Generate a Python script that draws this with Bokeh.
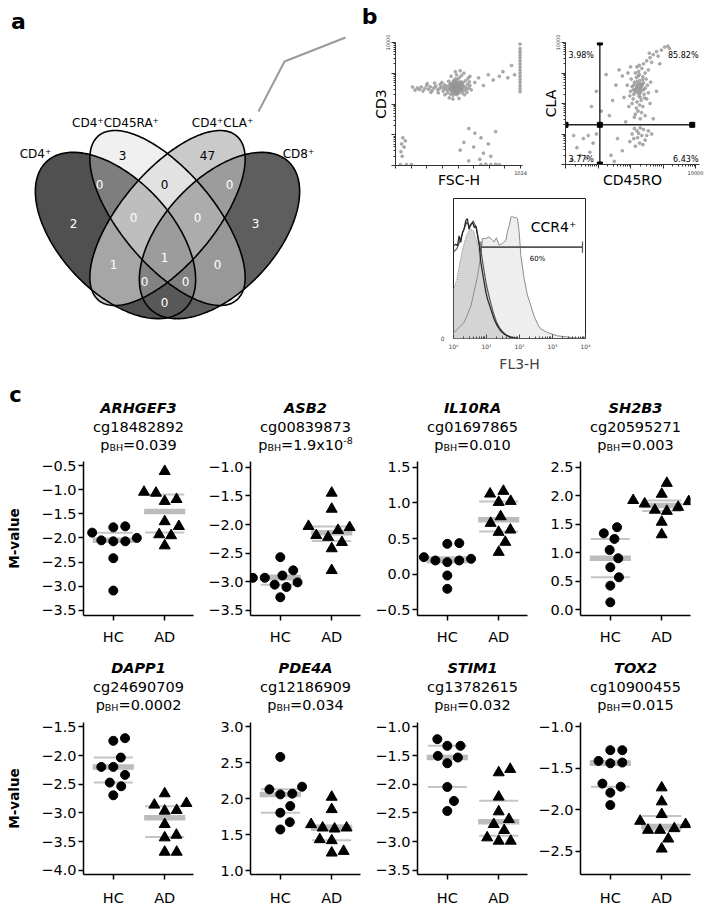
import math
import numpy as np
from bokeh.plotting import figure
from bokeh.layouts import row, column
from bokeh.models import Range1d, FixedTicker, ColumnDataSource
from bokeh.core.properties import value
from bokeh.embed import file_html
from bokeh.resources import INLINE

FONT = "DejaVu Sans"

# ======================= DATA =======================
# ---- panel a : Venn of probe sets (membership code: CD4, CD4CD45RA, CD4CLA, CD8)
VENN_SETS = ["CD4⁺", "CD4⁺CD45RA⁺", "CD4⁺CLA⁺", "CD8⁺"]
VENN_REGIONS = ["1000", "0100", "0010", "0001", "1100", "0110", "0011",
                "1110", "0111", "1010", "1111", "0101", "1011", "1101", "1001"]
VENN_COUNTS = [2, 3, 47, 3, 0, 0, 0, 0, 0, 1, 1, 0, 0, 0, 0]

# ---- panel b : flow cytometry (log10 values for log channels)
SCATTER1_EVENTS = [  # (FSC-H, log10 CD3)
    (490, 2.52), (470, 2.60), (510, 2.45), (455, 2.50), (530, 2.58), (500, 2.70), (480, 2.38), (520, 2.66),
    (460, 2.42), (540, 2.48), (495, 2.56), (475, 2.75), (515, 2.35), (445, 2.62), (550, 2.60), (505, 2.62),
    (485, 2.46), (525, 2.52), (465, 2.68), (535, 2.72), (450, 2.32), (500, 2.30), (560, 2.44), (440, 2.52),
    (570, 2.56), (490, 2.82), (520, 2.85), (470, 2.28), (545, 2.36), (430, 2.45), (510, 2.55), (480, 2.58),
    (495, 2.40), (460, 2.56), (530, 2.44), (505, 2.78), (485, 2.66), (555, 2.70), (475, 2.50), (515, 2.62),
    (488, 2.53), (472, 2.47), (508, 2.60), (492, 2.66), (462, 2.52), (518, 2.50), (528, 2.68), (482, 2.42),
    (498, 2.48), (512, 2.40), (468, 2.64), (538, 2.60), (478, 2.56), (502, 2.58), (522, 2.46), (458, 2.44),
    (548, 2.52), (494, 2.36), (484, 2.74), (514, 2.70), (452, 2.66), (506, 2.34), (532, 2.56), (476, 2.34),
    (544, 2.64), (466, 2.58), (526, 2.62), (496, 2.44), (486, 2.62), (516, 2.54),
    (420, 2.58), (410, 2.48), (400, 2.62), (390, 2.42), (375, 2.55), (360, 2.50), (345, 2.46), (330, 2.58),
    (315, 2.52), (300, 2.44), (285, 2.56), (270, 2.48), (255, 2.60), (240, 2.50), (225, 2.42), (210, 2.55),
    (195, 2.47), (180, 2.52), (160, 2.45), (140, 2.55), (380, 2.70), (350, 2.36), (320, 2.68), (290, 2.38),
    (260, 2.66), (405, 2.30), (435, 2.74), (425, 2.36), (365, 2.64), (395, 2.52), (580, 2.48), (590, 2.64),
    (600, 2.52), (585, 2.38), (575, 2.76), (610, 2.60), (565, 2.30), (595, 2.84), (620, 2.46), (605, 2.72),
    (455, 2.90), (500, 2.95), (540, 2.92), (470, 2.16), (520, 2.18), (490, 3.05), (560, 3.00), (440, 2.20),
    (610, 2.90), (530, 3.08), (650, 2.70), (680, 2.85), (720, 2.60), (760, 2.95), (800, 2.78), (850, 2.90),
    (880, 3.05), (920, 2.85), (950, 3.25), (975, 2.95),
    (1020, 2.40), (1020, 2.50), (1020, 2.60), (1020, 2.70), (1020, 2.80), (1020, 2.90), (1020, 3.00),
    (1020, 3.10), (1020, 3.20), (1020, 3.30), (1020, 3.40), (1020, 3.50), (1020, 3.60), (1020, 3.70),
    (1020, 3.80), (1020, 3.95),
    (60, 0.90), (50, 0.70), (70, 0.60), (45, 0.45), (80, 0.80), (55, 0.30), (40, 0.03), (90, 0.03),
    (130, 0.03), (600, 1.20), (650, 1.05), (560, 0.75), (700, 0.90), (640, 0.60), (720, 0.40), (690, 0.20),
    (600, 0.15), (530, 0.50), (760, 0.70), (820, 1.10), (780, 0.30), (700, 0.03), (740, 0.04), (780, 0.03),
    (820, 0.04), (850, 0.03),
]
SCATTER2_EVENTS = [  # (log10 CD45RO, log10 CLA)
    (2.25, 2.50), (2.20, 2.62), (2.32, 2.40), (2.15, 2.45), (2.28, 2.75), (2.35, 2.58), (2.10, 2.30), (2.40, 2.68),
    (2.18, 2.85), (2.30, 2.20), (2.22, 2.35), (2.45, 2.50), (2.05, 2.55), (2.27, 2.95), (2.38, 2.88), (2.12, 2.70),
    (2.33, 2.10), (2.20, 2.05), (2.42, 2.30), (2.08, 2.15), (2.25, 3.05), (2.35, 3.15), (2.15, 3.00), (2.45, 3.00),
    (2.28, 1.95), (2.18, 1.85), (2.38, 1.90), (2.05, 2.00), (2.50, 2.15), (2.00, 2.40), (2.26, 2.60), (2.31, 2.48),
    (2.19, 2.55), (2.24, 2.42), (2.36, 2.62), (2.14, 2.38), (2.29, 2.33), (2.21, 2.72), (2.40, 2.45), (2.10, 2.60),
    (2.48, 2.80), (2.02, 2.80), (2.52, 2.60), (1.98, 2.25), (2.55, 2.35), (2.23, 1.75), (2.34, 1.70), (2.15, 1.65),
    (2.27, 3.25), (2.40, 3.30), (2.20, 3.20), (2.50, 3.40), (2.32, 2.52), (2.17, 2.48), (2.26, 2.25), (2.37, 2.78),
    (2.09, 2.45), (2.43, 2.18), (2.24, 2.90), (2.30, 2.65), (2.60, 3.50), (2.70, 3.60), (2.80, 3.70), (2.95, 3.75),
    (3.05, 3.85), (3.15, 3.88), (2.65, 3.35), (2.85, 3.55), (2.58, 3.65), (3.20, 3.80), (2.12, 1.55), (2.30, 1.50),
    (2.45, 1.60), (1.95, 1.90), (2.60, 2.00), (1.90, 2.60), (2.62, 2.70), (1.92, 3.00), (2.55, 3.10), (2.00, 3.20),
    (2.20, 1.10), (2.35, 0.95), (2.10, 0.85), (2.40, 1.15), (2.28, 0.70), (2.15, 0.60), (2.45, 0.80), (2.05, 1.00),
    (2.30, 1.20), (2.50, 0.95), (2.22, 0.88), (2.38, 0.65), (1.98, 0.75), (2.25, 1.02), (2.55, 1.10), (2.12, 1.18),
    (0.35, 0.55), (0.55, 0.85), (0.75, 0.40), (0.25, 0.95), (0.65, 0.20), (0.85, 0.70), (0.45, 0.30), (0.95, 1.00),
    (0.20, 0.15), (0.70, 0.95), (1.40, 0.30), (1.60, 0.85), (1.75, 0.45), (1.50, 0.10),
    (0.95, 2.40), (1.25, 2.95), (1.45, 2.10), (1.10, 1.75), (1.55, 2.60), (0.80, 1.90), (1.65, 3.10), (1.35, 1.60),
    (1.80, 2.20), (1.85, 1.40), (2.70, 1.50), (2.80, 2.40), (1.75, 2.90), (2.65, 1.00), (2.90, 3.30),
]
QUADRANT_GATE = (11.4, 20.0)          # CD45RO, CLA thresholds
QUADRANT_PCT = ["3.98%", "85.82%", "3.77%", "6.43%"]   # UL, UR, LL, LR

# histograms: (log10 FL3-H, relative count)
HIST_CCR4 = [(0.00, 0.04), (0.12, 0.067), (0.32, 0.114), (0.53, 0.233), (0.73, 0.448), (0.83, 0.605),
             (0.88, 0.714), (0.98, 0.714), (1.08, 0.726), (1.18, 0.70), (1.23, 0.690), (1.30, 0.72),
             (1.38, 0.667), (1.48, 0.679), (1.59, 0.702), (1.64, 0.771), (1.69, 0.807), (1.74, 0.867),
             (1.79, 0.874), (1.84, 0.86), (1.89, 0.867), (1.94, 0.855), (1.99, 0.762), (2.04, 0.595),
             (2.14, 0.429), (2.24, 0.310), (2.34, 0.238), (2.44, 0.162), (2.55, 0.102), (2.65, 0.067),
             (2.85, 0.043), (3.15, 0.019), (3.66, 0.005), (3.96, 0.0), (4.0, 0.02)]
HIST_ISOTYPE = [(0.0, 0.35), (0.1, 0.42), (0.2, 0.55), (0.3, 0.66), (0.4, 0.74), (0.5, 0.78), (0.6, 0.77),
                (0.7, 0.70), (0.8, 0.58), (0.9, 0.45), (1.0, 0.34), (1.1, 0.24), (1.2, 0.16), (1.3, 0.10),
                (1.4, 0.06), (1.5, 0.035), (1.6, 0.02), (1.8, 0.005), (2.0, 0.0)]
HIST_CTRL_A = [(0.0, 0.662), (0.07, 0.674), (0.12, 0.662), (0.17, 0.733), (0.22, 0.686), (0.27, 0.757),
               (0.32, 0.781), (0.37, 0.840), (0.42, 0.857), (0.47, 0.781), (0.53, 0.817), (0.58, 0.829),
               (0.63, 0.793), (0.68, 0.805), (0.73, 0.733), (0.78, 0.662), (0.83, 0.543), (0.88, 0.471),
               (0.93, 0.400), (0.98, 0.329), (1.03, 0.281), (1.13, 0.210), (1.23, 0.138), (1.33, 0.090),
               (1.43, 0.055), (1.54, 0.031), (1.64, 0.019), (1.74, 0.010), (1.94, 0.0)]
HIST_CTRL_B = [(0.0, 0.62), (0.1, 0.64), (0.2, 0.70), (0.3, 0.77), (0.4, 0.83), (0.5, 0.80), (0.6, 0.84),
               (0.7, 0.78), (0.8, 0.66), (0.85, 0.60), (0.9, 0.52), (0.95, 0.45), (1.0, 0.38), (1.1, 0.28),
               (1.2, 0.19), (1.3, 0.12), (1.4, 0.075), (1.5, 0.045), (1.6, 0.025), (1.7, 0.012), (1.9, 0.0)]
CCR4_GATE = (6.8, 8100.0)
CCR4_PCT = "60%"

# ---- panel c : M-values
GENES = ["ARHGEF3", "ASB2", "IL10RA", "SH2B3", "DAPP1", "PDE4A", "STIM1", "TOX2"]
PROBES = ["cg18482892", "cg00839873", "cg01697865", "cg20595271",
          "cg24690709", "cg12186909", "cg13782615", "cg10900455"]
P_BH = ["0.039", "1.9x10^-8", "0.010", "0.003", "0.0002", "0.034", "0.032", "0.015"]
GROUPS = ["HC", "AD"]
HC_M = [
    [-1.89, -1.78, -1.76, -2.05, -2.07, -2.07, -2.00, -2.42, -3.09],
    [-2.89, -3.01, -2.57, -2.80, -3.05, -3.09, -3.27, -2.93, -2.93],
    [0.215, 0.192, 0.425, 0.435, 0.168, 0.192, 0.238, -0.019, -0.206],
    [1.343, 1.449, 1.244, 1.051, 0.905, 0.748, 0.572, 0.426, 0.134],
    [-1.744, -1.698, -2.035, -2.198, -2.198, -2.337, -2.471, -2.535, -2.692],
    [2.581, 2.130, 2.167, 2.060, 2.070, 1.898, 1.805, 1.674, 1.572],
    [-1.215, -1.331, -1.331, -1.506, -1.535, -1.634, -2.047, -2.291, -2.465],
    [-1.282, -1.282, -1.411, -1.431, -1.440, -1.685, -1.722, -1.794, -1.944],
]
AD_M = [
    [-0.62, -1.05, -1.07, -1.24, -1.20, -1.76, -1.66, -1.93, -1.95, -2.16],
    [-1.45, -1.73, -2.05, -2.19, -2.22, -2.10, -2.03, -2.31, -2.42, -2.80],
    [1.126, 1.164, 1.009, 1.023, 0.808, 0.715, 0.621, 0.589, 0.449, 0.308],
    [2.22, 2.03, 1.92, 1.80, 1.75, 1.73, 1.86, 1.90, 1.54, 1.32],
    [-2.663, -2.831, -2.860, -2.965, -2.953, -3.198, -3.430, -3.384, -3.680, -3.680],
    [2.023, 1.851, 1.642, 1.595, 1.595, 1.581, 1.433, 1.419, 1.247, 1.270],
    [-1.797, -1.738, -2.221, -2.477, -2.610, -2.698, -2.802, -2.930, -2.988, -2.988],
    [-1.734, -1.903, -2.056, -2.137, -2.177, -2.246, -2.246, -2.226, -2.351, -2.472],
]

# ======================= LAYOUT / STYLE =======================
Y_LIMITS = [(-3.606, -0.417), (-3.588, -0.90), (-0.58, 1.58), (-0.097, 2.60),
            (-4.071, -1.425), (0.946, 3.06), (-3.571, -0.925), (-2.781, -0.948)]
COL_W = [198, 167, 167, 177]
COL_LEFT = [83, 52, 52, 48]
FRAME_W = 110
X_LIM = (0.42, 2.56)
TOP_H = 380
TITLE_H = [77, 68]
TITLE_CENTERS = [(50, 31, 13), (51, 32, 14)]   # gene, probe, p line (px above title bottom)
PLOT_TOP = 4
ROW_FRAME_H = [154, 152]
ROW_BOTTOM = [35, 34]
ROW_STANDOFF = [8, 10]

REGION_GRAY = {"1000": 80, "0100": 240, "0010": 202, "0001": 94, "1100": 126, "0110": 226,
               "0011": 156, "1110": 190, "0111": 172, "1010": 166, "1111": 156, "0101": 152,
               "1011": 130, "1101": 128, "1001": 88}
REGION_POS = {"1000": (73, 223), "0100": (122, 155), "0010": (207, 155), "0001": (255, 223),
              "1100": (99, 184), "0110": (164, 184), "0011": (229, 184), "1110": (133, 217),
              "0111": (197, 217), "1010": (113, 264), "1111": (164, 257), "0101": (217, 264),
              "1011": (144, 281), "1101": (185, 281), "1001": (164, 302)}
# ellipses in page pixel space (y down): cx, cy, a, b, angle
ELLIPSES = [(115, 235, 101, 56, 47), (167, 217.5, 107.3, 46.6, 50),
            (167, 217.5, 107.3, 46.6, -50), (219, 235, 101, 56, -47)]
SET_LABEL_POS = [(35, 153), (115, 122), (222, 122), (298, 153)]


def new_fig(w, h, xr, yr, bl=0, br=0, bt=0, bb=0, axes=True):
    kw = {}
    if not axes:
        kw = dict(x_axis_location=None, y_axis_location=None)
    p = figure(width=w, height=h, x_range=xr, y_range=yr, output_backend="svg",
               toolbar_location=None, min_border_left=bl, min_border_right=br,
               min_border_top=bt, min_border_bottom=bb, **kw)
    try:
        p.frame_align = False
    except Exception:
        pass
    p.outline_line_color = None
    p.xgrid.visible = False
    p.ygrid.visible = False
    p.background_fill_color = "white"
    p.border_fill_color = "white"
    return p


def txt(p, xs, ys, texts, size, align="center", base="middle", style="normal", color="black",
        angle=0.0):
    p.text(x=xs, y=ys, text=texts, text_align=align, text_baseline=base, angle=angle,
           text_font=value(FONT), text_font_size=value(f"{size}px"),
           text_font_style=style, text_color=color)


# ======================= PANEL A =======================
def venn_panel():
    W, H = 353, TOP_H
    p = new_fig(W, H, Range1d(0, W), Range1d(-H, 0), axes=False)
    X0, X1, Y0, Y1 = 20, 322, 108, 336
    nx, ny = X1 - X0, Y1 - Y0
    xs = X0 + 0.5 + np.arange(nx)
    ys = Y1 - 0.5 - np.arange(ny)
    XX, YY = np.meshgrid(xs, ys)
    code = np.zeros((ny, nx), dtype=int)
    for k, (cx, cy, a, b, ang) in enumerate(ELLIPSES):
        t = math.radians(ang)
        dx, dy = XX - cx, YY - cy
        pp = dx * math.cos(t) + dy * math.sin(t)
        qq = -dx * math.sin(t) + dy * math.cos(t)
        inside = (pp / a) ** 2 + (qq / b) ** 2 <= 1.0
        code += inside.astype(int) << (3 - k)
    img = np.zeros((ny, nx), dtype=np.uint32)
    view = img.view(dtype=np.uint8).reshape((ny, nx, 4))
    for reg, g in REGION_GRAY.items():
        m = code == int(reg, 2)
        view[m, 0] = g
        view[m, 1] = g
        view[m, 2] = g
        view[m, 3] = 255
    p.image_rgba(image=[img], x=X0, y=-Y1, dw=nx, dh=ny)

    exs, eys = [], []
    tt = np.linspace(0, 2 * np.pi, 240)
    for (cx, cy, a, b, ang) in ELLIPSES:
        t = math.radians(ang)
        ex = cx + a * np.cos(tt) * math.cos(t) - b * np.sin(tt) * math.sin(t)
        ey = cy + a * np.cos(tt) * math.sin(t) + b * np.sin(tt) * math.cos(t)
        exs.append(list(ex))
        eys.append(list(-ey))
    p.patches(xs=exs, ys=eys, fill_color=None, line_color="black", line_width=1.6)

    src = ColumnDataSource(dict(
        x=[REGION_POS[r][0] for r in VENN_REGIONS],
        y=[-REGION_POS[r][1] for r in VENN_REGIONS],
        t=[str(c) for c in VENN_COUNTS],
        c=["black" if r in ("0100", "0010", "0110") else "white" for r in VENN_REGIONS]))
    p.text(x="x", y="y", text="t", text_color="c", source=src, text_align="center",
           text_baseline="middle", text_font=value(FONT), text_font_size=value("12px"))
    txt(p, [q[0] for q in SET_LABEL_POS], [-q[1] for q in SET_LABEL_POS], VENN_SETS, 12)
    p.line(x=[258, 284, 345], y=[-111, -61, -37], line_color="#9a9a9a", line_width=2)
    txt(p, [18], [-21], ["a"], 22, style="bold")
    return p


# ======================= PANEL B =======================
def log_minor():
    return [d + math.log10(k) for d in range(4) for k in range(2, 10)]


def style_flow_axis(ax, label):
    ax.axis_line_color = "#333333"
    ax.axis_line_width = 1
    ax.major_tick_line_color = "#333333"
    ax.minor_tick_line_color = "#333333"
    ax.major_label_text_font = FONT
    ax.major_label_text_font_size = "5px"
    ax.major_label_text_color = "#333333"
    ax.major_label_standoff = 2
    ax.axis_label = label
    ax.axis_label_text_font = FONT
    ax.axis_label_text_font_size = "14px"
    ax.axis_label_text_font_style = "normal"
    ax.axis_label_text_color = "black"
    ax.axis_label_standoff = -6


def b_label_panel():
    p = new_fig(356, 28, Range1d(0, 356), Range1d(0, 28), axes=False)
    txt(p, [16], [12], ["b"], 22, style="bold")
    return p


def scatter1_panel():
    p = new_fig(177, 162, Range1d(0, 1040), Range1d(0, 4), bl=42, br=8, bt=14, bb=23)
    xs = [e[0] for e in SCATTER1_EVENTS]
    ys = [e[1] for e in SCATTER1_EVENTS]
    p.scatter(x=xs, y=ys, size=2.8, color="#969696", alpha=0.75)
    style_flow_axis(p.xaxis[0], "FSC-H")
    style_flow_axis(p.yaxis[0], "CD3")
    ticks = list(range(0, 1025, 128))
    p.xaxis.ticker = FixedTicker(ticks=ticks, minor_ticks=[])
    p.xaxis.major_tick_out = 3
    p.xaxis.major_tick_in = 0
    p.xaxis.major_label_overrides = {t: ("1024" if t == 1024 else "") for t in ticks}
    p.yaxis.ticker = FixedTicker(ticks=[0, 1, 2, 3, 4], minor_ticks=log_minor())
    p.yaxis.major_tick_out = 4
    p.yaxis.major_tick_in = 0
    p.yaxis.minor_tick_out = 2
    p.yaxis.minor_tick_in = 0
    p.yaxis.major_label_orientation = "vertical"
    p.yaxis.major_label_overrides = {t: ("10000" if t == 4 else "") for t in range(5)}
    return p


def scatter2_panel():
    x_end = 4 + 4 * 4 / 130.0
    p = new_fig(179, 162, Range1d(0, x_end), Range1d(0, 4), bl=35, br=10, bt=14, bb=23)
    xs = [e[0] for e in SCATTER2_EVENTS]
    ys = [e[1] for e in SCATTER2_EVENTS]
    p.scatter(x=xs, y=ys, size=2.8, color="#969696", alpha=0.75)
    gx = math.log10(QUADRANT_GATE[0])
    gy = math.log10(QUADRANT_GATE[1])
    p.line(x=[gx, gx], y=[0, 4], line_color="#222222", line_width=1.4)
    p.line(x=[0, 3.9], y=[gy, gy], line_color="#222222", line_width=1.4)
    p.scatter(x=[gx, gx, 0, 3.9, gx], y=[4, 0, gy, gy, gy], marker="square", size=5,
              color="black")
    style_flow_axis(p.xaxis[0], "CD45RO")
    style_flow_axis(p.yaxis[0], "CLA")
    for ax in (p.xaxis[0], p.yaxis[0]):
        ax.ticker = FixedTicker(ticks=[0, 1, 2, 3, 4], minor_ticks=log_minor())
        ax.major_tick_out = 4
        ax.major_tick_in = 0
        ax.minor_tick_out = 2
        ax.minor_tick_in = 0
        ax.major_label_overrides = {t: ("10000" if t == 4 else "") for t in range(5)}
    p.yaxis.major_label_orientation = "vertical"
    d = 3 / 32.5
    txt(p, [d, d], [3.58, 0.15], [QUADRANT_PCT[0], QUADRANT_PCT[2]], 8, align="left")
    txt(p, [x_end - 0.03, x_end - 0.03], [3.58, 0.15], [QUADRANT_PCT[1], QUADRANT_PCT[3]], 8,
        align="right")
    return p


def hist_panel():
    h = TOP_H - 28 - 162
    p = new_fig(356, h, Range1d(0, 4), Range1d(0, 1), bl=100, br=124, bt=8, bb=h - 148)
    p.outline_line_color = "#222222"
    p.outline_line_width = 1

    def xy(curve):
        return [c[0] for c in curve], [c[1] for c in curve]

    cx, cy = xy(HIST_CCR4)
    p.varea(x=cx, y1=[0] * len(cx), y2=cy, fill_color="#eeeeee")
    ix, iy = xy(HIST_ISOTYPE)
    p.varea(x=ix, y1=[0] * len(ix), y2=iy, fill_color="#d4d4d4")
    p.line(x=ix, y=iy, line_color="#8c8c8c", line_width=1, line_dash="1 1")
    p.line(x=cx, y=cy, line_color="#8c8c8c", line_width=1)
    bx, by = xy(HIST_CTRL_B)
    p.line(x=bx, y=by, line_color="#555555", line_width=1.2)
    ax_, ay_ = xy(HIST_CTRL_A)
    p.line(x=ax_, y=ay_, line_color="#222222", line_width=1.2)

    g0, g1 = math.log10(CCR4_GATE[0]), math.log10(CCR4_GATE[1])
    gy = 0.652
    p.line(x=[g0, g1], y=[gy, gy], line_color="#555555", line_width=1.8)
    p.segment(x0=[g0, g1], x1=[g0, g1], y0=[gy - 0.04] * 2, y1=[gy + 0.04] * 2,
              line_color="#555555", line_width=1.2)
    txt(p, [2.55], [0.571], [CCR4_PCT], 7)
    txt(p, [3.03], [0.793], ["CCR4⁺"], 14)

    xa = p.xaxis[0]
    xa.ticker = FixedTicker(ticks=[0, 1, 2, 3, 4], minor_ticks=log_minor())
    xa.axis_line_color = None
    xa.major_tick_in = 4
    xa.major_tick_out = 0
    xa.minor_tick_in = 2
    xa.minor_tick_out = 0
    xa.major_tick_line_color = "#444444"
    xa.minor_tick_line_color = "#444444"
    xa.major_label_overrides = {0: "10⁰", 1: "10¹", 2: "10²", 3: "10³", 4: "10⁴"}
    xa.major_label_text_font = FONT
    xa.major_label_text_font_size = "6px"
    xa.major_label_standoff = 4
    xa.axis_label = "FL3-H"
    xa.axis_label_text_font = FONT
    xa.axis_label_text_font_size = "14px"
    xa.axis_label_text_font_style = "normal"
    xa.axis_label_standoff = 3
    ya = p.yaxis[0]
    ya.ticker = FixedTicker(ticks=[0], minor_ticks=[])
    ya.axis_line_color = None
    ya.major_tick_line_color = None
    ya.major_label_overrides = {0: "0"}
    ya.major_label_text_font = FONT
    ya.major_label_text_font_size = "6px"
    ya.major_label_standoff = 3
    return p


# ======================= PANEL C =======================
EM = {"p": 0.635, "B": 0.686, "H": 0.752, "=": 0.838, ".": 0.318, "x": 0.592, "-": 0.361}
MAIN_SZ, SUB_SZ = 14.5, 9.5
MID_K = 0.346   # (ascent - descent)/2 of DejaVu Sans, in em


def text_w(s, size):
    return sum(EM.get(ch, 0.636) for ch in s) * size


def swarm(vals, ppx, ppy, d=12.0):
    order = np.argsort(vals, kind="stable")
    placed = []
    out = np.zeros(len(vals))
    for i in order:
        y = vals[i] * ppy
        cands = [0.0]
        for (xj, yj) in placed:
            dy = abs(y - yj)
            if dy < d:
                dx = math.sqrt(d * d - dy * dy)
                cands += [xj + dx, xj - dx]
        ok = [c for c in cands
              if all((c - xj) ** 2 + (y - yj) ** 2 >= d * d - 1e-6 for xj, yj in placed)]
        best = min(ok, key=lambda c: (round(abs(c), 6), -c))
        out[i] = best / ppx
        placed.append((best, y))
    return out


def title_panel(i, col, r):
    w = COL_W[col]
    h = TITLE_H[r]
    p = new_fig(w, h, Range1d(0, w), Range1d(0, h), axes=False)
    xc = COL_LEFT[col] + FRAME_W / 2
    y_gene, y_probe, y_p = TITLE_CENTERS[r]
    txt(p, [xc], [y_gene], [GENES[i]], MAIN_SZ, style="bold italic")
    txt(p, [xc], [y_probe], [PROBES[i]], MAIN_SZ)
    if "^" in P_BH[i]:
        base_s, sup = P_BH[i].split("^")
    else:
        base_s, sup = P_BH[i], None
    # baseline shift (px, upward positive) of each piece relative to main baseline
    parts = [("p", MAIN_SZ, 0.0), ("BH", SUB_SZ, -1.5), ("=" + base_s, MAIN_SZ, 0.0)]
    if sup:
        parts.append((sup, SUB_SZ, 5.5))
    total = sum(text_w(s, sz) for s, sz, _ in parts)
    x = xc - total / 2
    base_line = y_p - MID_K * MAIN_SZ
    for s, sz, dy in parts:
        ymid = base_line + dy + MID_K * sz
        txt(p, [x], [ymid], [s], sz, align="left")
        x += text_w(s, sz)
    if i == 0:
        txt(p, [15], [h - 14], ["c"], 21, style="bold")
    return p


def dot_panel(i, col, r):
    ymin, ymax = Y_LIMITS[i]
    w = COL_W[col]
    bl = COL_LEFT[col]
    br = w - bl - FRAME_W
    fh = ROW_FRAME_H[r]
    bb = ROW_BOTTOM[r]
    h = PLOT_TOP + fh + bb
    p = new_fig(w, h, Range1d(*X_LIM), Range1d(ymin, ymax), bl=bl, br=br, bt=PLOT_TOP, bb=bb)
    ppx = FRAME_W / (X_LIM[1] - X_LIM[0])
    ppy = fh / (ymax - ymin)
    for g, vals, marker, size in ((1, HC_M[i], "circle", 9), (2, AD_M[i], "triangle", 11)):
        v = np.array(vals, dtype=float)
        q1, med, q3 = np.percentile(v, [25, 50, 75])
        p.segment(x0=[g - 0.38] * 2, x1=[g + 0.38] * 2, y0=[q1, q3], y1=[q1, q3],
                  line_color="#c4c4c4", line_width=2)
        p.segment(x0=[g - 0.40], x1=[g + 0.40], y0=[med], y1=[med],
                  line_color="#bcbcbc", line_width=5.5)
        off = swarm(v, ppx, ppy)
        p.scatter(x=g + off, y=v, marker=marker, size=size, fill_color="black",
                  line_color="black")

    ticks = [round(t, 2) for t in np.arange(math.ceil(ymin * 2 - 1e-9) / 2,
                                            math.floor(ymax * 2 + 1e-9) / 2 + 0.01, 0.5)]
    ya = p.yaxis[0]
    ya.ticker = FixedTicker(ticks=ticks, minor_ticks=[])
    ya.major_label_overrides = {t: (f"{0.0 if abs(t) < 1e-9 else t:.1f}").replace("-", "−")
                                for t in ticks}
    ya.major_label_standoff = 2
    xa = p.xaxis[0]
    xa.ticker = FixedTicker(ticks=[1, 2], minor_ticks=[])
    xa.major_label_overrides = {1: GROUPS[0], 2: GROUPS[1]}
    xa.major_label_standoff = ROW_STANDOFF[r]
    for ax in (xa, ya):
        ax.axis_line_width = 1.5
        ax.axis_line_color = "black"
        ax.major_tick_line_width = 1.5
        ax.major_tick_line_color = "black"
        ax.major_tick_out = 5
        ax.major_tick_in = 0
        ax.minor_tick_line_color = None
        ax.major_label_text_font = FONT
        ax.major_label_text_font_size = "14.5px"
        ax.major_label_text_color = "black"
    if col == 0:
        ya.axis_label = "M-value"
        ya.axis_label_text_font = FONT
        ya.axis_label_text_font_size = "13.5px"
        ya.axis_label_text_font_style = "bold"
        ya.axis_label_text_color = "black"
        ya.axis_label_standoff = 16
    return p


venn = venn_panel()
panel_b = column(b_label_panel(), row(scatter1_panel(), scatter2_panel(), spacing=0),
                 hist_panel(), spacing=0)
top = row(venn, panel_b, spacing=0)
rows = []
for r in range(2):
    cols = []
    for c in range(4):
        i = r * 4 + c
        cols.append(column(title_panel(i, c, r), dot_panel(i, c, r), spacing=0))
    rows.append(row(*cols, spacing=0))
page = column(top, rows[0], rows[1], spacing=0)

open("out.html", "w").write(file_html(page, INLINE))
